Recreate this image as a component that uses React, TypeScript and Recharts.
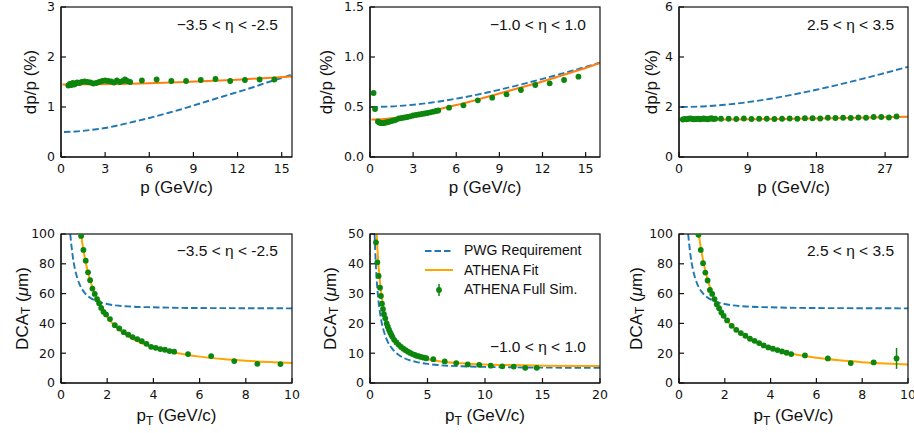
import React from 'react';
import { ComposedChart, Line, Scatter, XAxis, YAxis, ErrorBar, Label, Legend } from 'recharts';

// ---------- colours ----------
const C_REQ = '#1f77b4';
const C_FIT_TOP = '#ff7f0e';
const C_FIT_BOT = '#ffa500';
const C_SIM = '#0c860c';
const C_AXIS = '#111';
const REQ_DASH = '6.5 3';

// ---------- tick labels ----------
const P1_XTICKS = [0, 3, 6, 9, 12, 15];
const P2_XTICKS = [0, 3, 6, 9, 12, 15];
const P3_XTICKS = [0, 9, 18, 27];
const P1_YTICKS = [0, 1, 2, 3];
const P2_YTICKS = [0, 0.5, 1.0, 1.5];
const P3_YTICKS = [0, 2, 4, 6];
const P4_XTICKS = [0, 2, 4, 6, 8, 10];
const P5_XTICKS = [0, 5, 10, 15, 20];
const P6_XTICKS = [0, 2, 4, 6, 8, 10];
const DCA_FWD_YTICKS = [0, 20, 40, 60, 80, 100];
const DCA_MID_YTICKS = [0, 10, 20, 30, 40, 50];

const ETA_LABELS = ['\u22123.5 < \u03b7 < -2.5', '\u22121.0 < \u03b7 < 1.0', '2.5 < \u03b7 < 3.5'];
const LEGEND_NAMES = ['PWG Requirement', 'ATHENA Fit', 'ATHENA Full Sim.'];

// ---------- panel 1: dp/p, -3.5<eta<-2.5 ----------
const P1_REQ = [[0.2, 0.5], [1, 0.51], [2, 0.54], [3, 0.58], [4, 0.64], [5, 0.71], [6, 0.78], [7, 0.86], [8, 0.94], [9, 1.03], [10, 1.12], [11, 1.21], [12, 1.3], [13, 1.39], [14, 1.49], [15, 1.58], [15.7, 1.65]];
const P1_FIT = [[0.1, 1.45], [2, 1.453], [4, 1.461], [6, 1.475], [8, 1.494], [10, 1.518], [12, 1.547], [14, 1.58], [15.7, 1.61]];
const P1_SIM = [[0.5, 1.43], [0.6, 1.46], [0.7, 1.44], [0.8, 1.48], [0.9, 1.45], [1.0, 1.47], [1.1, 1.49], [1.25, 1.48], [1.4, 1.5], [1.6, 1.51], [1.8, 1.5], [2.0, 1.49], [2.2, 1.47], [2.4, 1.48], [2.6, 1.5], [2.8, 1.52], [3.0, 1.53], [3.2, 1.52], [3.4, 1.51], [3.6, 1.49], [3.8, 1.53], [4.0, 1.5], [4.2, 1.52], [4.35, 1.55], [4.5, 1.52], [4.7, 1.5], [5.5, 1.53], [6.5, 1.55], [7.5, 1.52], [8.5, 1.52], [9.5, 1.54], [10.5, 1.56], [11.5, 1.52], [12.5, 1.54], [13.5, 1.55], [14.5, 1.55]];

// ---------- panel 2: dp/p, -1<eta<1 ----------
const P2_REQ = [[0.1, 0.5], [2, 0.51], [4, 0.539], [6, 0.583], [8, 0.64], [10, 0.707], [12, 0.781], [14, 0.86], [16, 0.943]];
const P2_FIT = [[0.1, 0.375], [1, 0.38], [2, 0.395], [3, 0.42], [4, 0.45], [5, 0.485], [6, 0.52], [7, 0.555], [8, 0.595], [9, 0.635], [10, 0.675], [11, 0.715], [12, 0.755], [13, 0.8], [14, 0.845], [15, 0.89], [16, 0.94]];
const P2_SIM = [[0.25, 0.64], [0.35, 0.48], [0.55, 0.355], [0.65, 0.345], [0.75, 0.34], [0.85, 0.338], [0.95, 0.34], [1.05, 0.343], [1.15, 0.347], [1.25, 0.35], [1.35, 0.354], [1.5, 0.36], [1.65, 0.366], [1.8, 0.372], [2.0, 0.385], [2.2, 0.39], [2.4, 0.395], [2.6, 0.4], [2.8, 0.407], [3.0, 0.415], [3.2, 0.42], [3.4, 0.425], [3.6, 0.43], [3.8, 0.435], [4.0, 0.44], [4.2, 0.447], [4.4, 0.453], [4.6, 0.46], [4.75, 0.465], [5.5, 0.493], [6.5, 0.517], [7.5, 0.567], [8.5, 0.593], [9.5, 0.627], [10.5, 0.67], [11.5, 0.72], [12.5, 0.737], [13.5, 0.77], [14.5, 0.803]];

// ---------- panel 3: dp/p, 2.5<eta<3.5 ----------
const P3_REQ = [[0.3, 2.0], [3, 2.022], [6, 2.088], [9, 2.193], [12, 2.332], [15, 2.5], [18, 2.691], [21, 2.9], [24, 3.124], [27, 3.363], [30, 3.606]];
const P3_FIT = [[0, 1.5], [5, 1.503], [10, 1.513], [15, 1.528], [20, 1.549], [25, 1.576], [30, 1.61]];
const P3_SIM = [[0.5, 1.5], [0.75, 1.52], [1.0, 1.51], [1.25, 1.53], [1.5, 1.54], [1.75, 1.52], [2.0, 1.51], [2.25, 1.52], [2.5, 1.53], [2.75, 1.51], [3.0, 1.52], [3.25, 1.54], [3.5, 1.52], [3.75, 1.51], [4.0, 1.53], [4.25, 1.55], [4.5, 1.52], [4.75, 1.53], [5.5, 1.53], [6.5, 1.53], [7.5, 1.52], [8.5, 1.54], [9.5, 1.52], [10.5, 1.53], [11.5, 1.53], [12.5, 1.52], [13.5, 1.53], [14.5, 1.54], [15.5, 1.53], [16.5, 1.55], [17.5, 1.55], [18.5, 1.54], [19.5, 1.57], [20.5, 1.56], [21.5, 1.57], [22.5, 1.56], [23.5, 1.58], [24.5, 1.57], [25.5, 1.6], [26.5, 1.6], [27.5, 1.58], [28.5, 1.62]];

// ---------- panels 4 & 6 requirement: DCA_T forward/backward ----------
const DCA_REQ_FWD = [[0.4, 100], [0.45, 92.5], [0.5, 86.0], [0.6, 76.8], [0.7, 70.7], [0.8, 66.4], [1.0, 61.0], [1.2, 57.9], [1.5, 55.2], [2, 53.0], [3, 51.3], [4, 50.8], [6, 50.3], [8, 50.2], [10, 50.1]];

// ---------- panel 4: DCA_T, -3.5<eta<-2.5 ----------
const P4_FIT = [[0.86, 100], [0.9, 96.2], [1.0, 86.6], [1.1, 78.9], [1.2, 72.4], [1.4, 62.3], [1.6, 54.7], [1.8, 48.9], [2.0, 44.2], [2.5, 35.9], [3.0, 30.5], [3.5, 26.7], [4.0, 23.9], [5.0, 20.1], [6.0, 17.7], [7.0, 16.1], [8.0, 14.95], [9.0, 14.1], [10.0, 13.5]];
const P4_SIM = [[0.87, 98.7], [0.97, 89.3], [1.07, 82.1], [1.17, 74.3], [1.26, 69.0], [1.36, 63.4], [1.46, 59.8], [1.56, 56.2], [1.65, 53.6], [1.74, 50.4], [1.84, 47.8], [1.95, 46.0], [2.12, 42.9], [2.33, 38.8], [2.52, 36.6], [2.72, 34.1], [2.91, 32.4], [3.1, 30.8], [3.3, 29.5], [3.5, 28.1], [3.7, 26.3], [3.9, 24.3], [4.1, 23.6], [4.3, 22.8], [4.5, 22.3], [4.7, 21.4], [4.9, 21.0], [5.5, 19.4], [6.5, 18.1], [7.5, 14.7], [8.5, 12.9], [9.5, 12.7]];

// ---------- panel 5: DCA_T, -1<eta<1 ----------
const P5_REQ = [[0.4, 50], [0.5, 40.3], [0.6, 33.7], [0.7, 29.0], [0.8, 25.5], [1.0, 20.6], [1.25, 16.8], [1.5, 14.2], [2.0, 11.2], [2.5, 9.4], [3, 8.3], [4, 7.1], [5, 6.4], [6, 6.0], [8, 5.6], [10, 5.4], [12, 5.27], [15, 5.17], [20, 5.1]];
const P5_FIT = [[0.585, 50], [0.6, 48.6], [0.7, 41.8], [0.8, 36.7], [0.9, 32.7], [1.0, 29.5], [1.2, 24.8], [1.5, 20.1], [2.0, 15.5], [2.5, 12.8], [3.0, 11.1], [4.0, 9.1], [5.0, 8.0], [6.0, 7.3], [8.0, 6.6], [10, 6.2], [12, 6.0], [15, 5.83], [20, 5.69]];
const P5_SIM = [[0.52, 47.2], [0.64, 40.5], [0.75, 35.9], [0.87, 32.0], [0.95, 29.2], [1.04, 26.6], [1.13, 24.8], [1.21, 23.1], [1.33, 21.7], [1.45, 20.0], [1.55, 18.9], [1.65, 17.9], [1.75, 17.0], [1.85, 16.2], [1.95, 15.5], [2.1, 14.5], [2.3, 13.6], [2.5, 12.8], [2.7, 12.1], [2.9, 11.5], [3.1, 11.0], [3.3, 10.5], [3.5, 10.1], [3.7, 9.7], [3.9, 9.4], [4.1, 9.1], [4.3, 8.9], [4.5, 8.7], [4.7, 8.5], [4.9, 8.3], [5.5, 8.0], [6.5, 7.25], [7.5, 6.7], [8.5, 6.25], [9.5, 6.1], [10.5, 5.8], [11.5, 5.6], [12.5, 5.5], [13.5, 5.1], [14.5, 5.1]];

// ---------- panel 6: DCA_T, 2.5<eta<3.5 ----------
const P6_FIT = [[0.86, 100], [0.9, 96.0], [1.0, 86.5], [1.1, 78.7], [1.2, 72.3], [1.4, 62.1], [1.6, 54.5], [1.8, 48.6], [2.0, 43.9], [2.5, 35.6], [3.0, 30.1], [3.5, 26.2], [4.0, 23.3], [5.0, 19.4], [6.0, 16.9], [7.0, 15.2], [8.0, 14.0], [9.0, 13.1], [10.0, 12.4]];
const P6_SIM = [[0.85, 99.5], [0.95, 89.3], [1.05, 80.4], [1.15, 74.1], [1.25, 68.8], [1.35, 62.5], [1.45, 59.8], [1.55, 56.3], [1.65, 52.9], [1.75, 50.2], [1.85, 47.3], [1.95, 45.1], [2.1, 42.0], [2.3, 38.4], [2.5, 35.7], [2.7, 33.5], [2.9, 31.7], [3.1, 29.7], [3.3, 28.3], [3.5, 26.8], [3.7, 25.2], [3.9, 23.9], [4.1, 23.0], [4.3, 22.1], [4.5, 21.2], [4.7, 20.3], [4.9, 19.4], [5.5, 18.5], [6.5, 16.5], [7.5, 13.4], [8.5, 13.8], [9.5, 16.5, 7.0]];

type Pt = { x: number; y: number; e: number };
const toPts = (a: number[][]): Pt[] => a.map((r) => ({ x: r[0], y: r[1], e: r[2] ?? 0 }));

const SANS = 'Liberation Sans, Arial, Helvetica, sans-serif';
const TICK_FONT = 'DejaVu Sans, sans-serif';

type Cfg = {
  left: number; top: number; width: number; height: number;
  yw: number; mt: number; mr: number; xh: number;
  xDomain: [number, number]; xTicks: number[];
  yDomain: [number, number]; yTicks: number[]; yDec: number;
  req: number[][]; fit: number[][]; sim: number[][];
  fitColor: string;
  eta: string; etaDy: number; etaBottom?: boolean;
  kind: 'dp' | 'dca';
  yLabOff: number; xLabBase: number;
  legend?: boolean; errBars?: boolean;
};

const Dot = (props: any) => {
  const { cx, cy } = props;
  if (cx == null || cy == null) return null;
  return <circle cx={cx} cy={cy} r={2.9} fill={C_SIM} />;
};

const LegendBox = () => (
  <div style={{ fontFamily: SANS, fontSize: 14, color: '#111' }}>
    {LEGEND_NAMES.map((name, i) => (
      <div key={name} style={{ display: 'flex', alignItems: 'center', height: 19.5 }}>
        <svg width={28} height={14} style={{ display: 'block' }}>
          {i === 0 && <line x1={0} y1={7} x2={28} y2={7} stroke={C_REQ} strokeWidth={1.9} strokeDasharray={REQ_DASH} />}
          {i === 1 && <line x1={0} y1={7} x2={28} y2={7} stroke={C_FIT_BOT} strokeWidth={2} />}
          {i === 2 && (
            <g>
              <line x1={14} y1={1} x2={14} y2={13} stroke={C_SIM} strokeWidth={1.5} />
              <circle cx={14} cy={7} r={2.9} fill={C_SIM} />
            </g>
          )}
        </svg>
        <span style={{ marginLeft: 11, lineHeight: '19.5px', whiteSpace: 'nowrap' }}>{name}</span>
      </div>
    ))}
  </div>
);

function Panel(c: Cfg) {
  const plotW = c.width - c.yw - c.mr;
  const plotH = c.height - c.mt - c.xh;
  const xMid = c.yw + plotW / 2;
  const yMid = c.mt + plotH / 2;
  const plotRight = c.yw + plotW;
  const etaY = c.etaBottom ? c.mt + plotH - c.etaDy : c.mt + c.etaDy;
  const tick = { fill: '#111', fontSize: 12.5, fontFamily: TICK_FONT };

  // x-axis title, plus the panel frame (top/right spines) and the eta-range annotation
  const xLabel = () => (
    <g>
      <rect x={c.yw} y={c.mt} width={plotW} height={plotH} fill="none" stroke={C_AXIS} strokeWidth={1.2} />
      {c.kind === 'dp' ? (
        <text x={xMid} y={c.xLabBase} textAnchor="middle" fontSize={17} fontFamily={SANS} fill="#111">p (GeV/c)</text>
      ) : (
        <text x={xMid} y={c.xLabBase} textAnchor="middle" fontSize={17} fontFamily={SANS} fill="#111">
          p<tspan fontSize={12} dy={4}>T</tspan><tspan dy={-4}> (GeV/c)</tspan>
        </text>
      )}
      <text x={plotRight - 14} y={etaY} textAnchor="end" dominantBaseline="central" fontSize={15.5} fontFamily={SANS} fill="#111">{c.eta}</text>
    </g>
  );

  const yx = c.yw - c.yLabOff;
  const yLabel = () =>
    c.kind === 'dp' ? (
      <text x={yx} y={yMid} transform={`rotate(-90, ${yx}, ${yMid})`} textAnchor="middle" dominantBaseline="central" fontSize={17} fontFamily={SANS} fill="#111">dp/p (%)</text>
    ) : (
      <text x={yx} y={yMid} transform={`rotate(-90, ${yx}, ${yMid})`} textAnchor="middle" dominantBaseline="central" fontSize={17} fontFamily={SANS} fill="#111">
        DCA<tspan fontSize={12} dy={4}>T</tspan><tspan dy={-4}> (</tspan><tspan fontStyle="italic">{'\u03bc'}</tspan>m)
      </text>
    );

  return (
    <div style={{ position: 'absolute', left: c.left, top: c.top, width: c.width, height: c.height }}>
      <ComposedChart width={c.width} height={c.height} margin={{ top: c.mt, right: c.mr, bottom: 0, left: 0 }}>
        <XAxis
          xAxisId="b" dataKey="x" type="number" domain={c.xDomain} ticks={c.xTicks} interval={0}
          allowDataOverflow height={c.xh} tickSize={-5} tickMargin={12} tick={tick}
          axisLine={{ stroke: C_AXIS, strokeWidth: 1.2 }} tickLine={{ stroke: C_AXIS, strokeWidth: 1.2 }}
        >
          <Label content={xLabel} />
        </XAxis>
        <YAxis
          yAxisId="l" dataKey="y" type="number" domain={c.yDomain} ticks={c.yTicks} interval={0}
          allowDataOverflow width={c.yw} tickSize={-5} tickMargin={11} tick={tick}
          tickFormatter={(v: number) => v.toFixed(c.yDec)}
          axisLine={{ stroke: C_AXIS, strokeWidth: 1.2 }} tickLine={{ stroke: C_AXIS, strokeWidth: 1.2 }}
        >
          <Label content={yLabel} />
        </YAxis>
        <Line
          xAxisId="b" yAxisId="l" data={toPts(c.req)} dataKey="y" type="monotone" stroke={C_REQ}
          strokeWidth={1.9} strokeDasharray={REQ_DASH} dot={false} activeDot={false} isAnimationActive={false}
          name={LEGEND_NAMES[0]}
        />
        <Line
          xAxisId="b" yAxisId="l" data={toPts(c.fit)} dataKey="y" type="monotone" stroke={c.fitColor}
          strokeWidth={2} dot={false} activeDot={false} isAnimationActive={false} name={LEGEND_NAMES[1]}
        />
        <Scatter
          xAxisId="b" yAxisId="l" data={toPts(c.sim)} dataKey="y" shape={Dot} isAnimationActive={false}
          name={LEGEND_NAMES[2]}
        >
          {c.errBars && <ErrorBar dataKey="e" direction="y" width={0} stroke={C_SIM} strokeWidth={1.5} />}
        </Scatter>
        {c.legend && (
          <Legend
            layout="vertical" align="center" verticalAlign="middle"
            wrapperStyle={{ position: 'absolute', left: 125, top: 21, width: 200, height: 60 }}
            content={() => <LegendBox />}
          />
        )}
      </ComposedChart>
    </div>
  );
}

const TOP = { top: 0, height: 205, mt: 7, xh: 48, xLabBase: 193, etaDy: 17 };
const BOT = { top: 220, height: 213, mt: 14, xh: 50, xLabBase: 201, etaDy: 16 };
const COL1 = { left: 0, width: 300, yw: 61, mr: 8 };
const COL2 = { left: 300, width: 310, yw: 70, mr: 10 };
const COL3 = { left: 610, width: 304, yw: 69, mr: 6 };

export default function App() {
  return (
    <div style={{ position: 'absolute', left: 0, top: 0, width: 914, height: 433, background: '#fff', overflow: 'hidden' }}>
      <Panel {...TOP} {...COL1} xDomain={[0, 15.7]} xTicks={P1_XTICKS} yDomain={[0, 3]} yTicks={P1_YTICKS} yDec={0}
        req={P1_REQ} fit={P1_FIT} sim={P1_SIM} fitColor={C_FIT_TOP} eta={ETA_LABELS[0]} kind="dp" yLabOff={31} />
      <Panel {...TOP} {...COL2} xDomain={[0, 16]} xTicks={P2_XTICKS} yDomain={[0, 1.5]} yTicks={P2_YTICKS} yDec={1}
        req={P2_REQ} fit={P2_FIT} sim={P2_SIM} fitColor={C_FIT_TOP} eta={ETA_LABELS[1]} kind="dp" yLabOff={44} />
      <Panel {...TOP} {...COL3} xDomain={[0, 30]} xTicks={P3_XTICKS} yDomain={[0, 6]} yTicks={P3_YTICKS} yDec={0}
        req={P3_REQ} fit={P3_FIT} sim={P3_SIM} fitColor={C_FIT_TOP} eta={ETA_LABELS[2]} kind="dp" yLabOff={28} />
      <Panel {...BOT} {...COL1} xDomain={[0, 10]} xTicks={P4_XTICKS} yDomain={[0, 100]} yTicks={DCA_FWD_YTICKS} yDec={0}
        req={DCA_REQ_FWD} fit={P4_FIT} sim={P4_SIM} fitColor={C_FIT_BOT} eta={ETA_LABELS[0]} kind="dca" yLabOff={39} />
      <Panel {...BOT} {...COL2} xDomain={[0, 20]} xTicks={P5_XTICKS} yDomain={[0, 50]} yTicks={DCA_MID_YTICKS} yDec={0}
        req={P5_REQ} fit={P5_FIT} sim={P5_SIM} fitColor={C_FIT_BOT} eta={ETA_LABELS[1]} etaBottom etaDy={36.5}
        kind="dca" yLabOff={40} legend />
      <Panel {...BOT} {...COL3} xDomain={[0, 10]} xTicks={P6_XTICKS} yDomain={[0, 100]} yTicks={DCA_FWD_YTICKS} yDec={0}
        req={DCA_REQ_FWD} fit={P6_FIT} sim={P6_SIM} fitColor={C_FIT_BOT} eta={ETA_LABELS[2]} kind="dca" yLabOff={43} errBars />
    </div>
  );
}
